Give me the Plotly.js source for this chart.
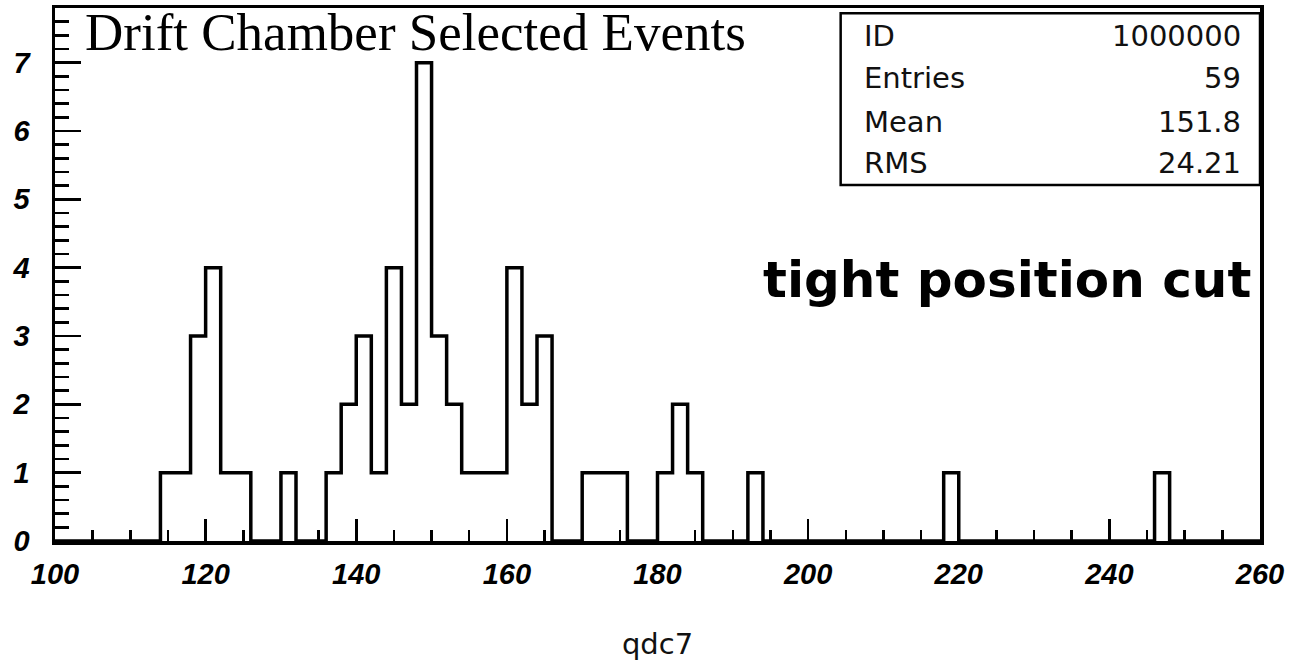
<!DOCTYPE html>
<html>
<head>
<meta charset="utf-8">
<script src="https://cdn.plot.ly/plotly-3.0.1.min.js"></script>
<style>
  html, body { margin: 0; padding: 0; background: #ffffff; }
  #chart { width: 1297px; height: 665px; }
</style>
</head>
<body>
<div id="chart"></div>
<script>
// ---- data ----
const chartTitle = 'Drift Chamber Selected Events';
const xTitle = 'qdc7';
const handNote = 'tight position cut';
const xMin = 100, xMax = 260, binWidth = 2;
// left edges of non-empty bins and their counts
const binLeft = [114,116,118,120,122,124,130,136,138,140,142,144,146,148,150,152,154,156,158,160,162,164,170,172,174,180,182,184,192,218,246];
const counts  = [1,1,3,4,1,1,1,1,2,3,1,4,2,7,3,2,1,1,1,4,2,3,1,1,1,1,2,1,1,1,1];
const statLabels = ['ID', 'Entries', 'Mean', 'RMS'];
const statValues = ['1000000', '59', '151.8', '24.21'];
const xTickVals = [100,120,140,160,180,200,220,240,260];
const yTickVals = [0,1,2,3,4,5,6,7];

// ---- build the full step outline from the bins ----
const nBins = Math.round((xMax - xMin) / binWidth);
const full = new Array(nBins).fill(0);
binLeft.forEach((l, i) => { full[Math.round((l - xMin) / binWidth)] = counts[i]; });
const sx = [], sy = [];
for (let i = 0; i < nBins; i++) { sx.push(xMin + i * binWidth); sy.push(full[i]); }
sx.push(xMax); sy.push(0);

const trace = {
  type: 'scatter', mode: 'lines', x: sx, y: sy,
  line: { shape: 'hv', color: '#000', width: 3.5 },
  hoverinfo: 'x+y', showlegend: false
};

const tickFont = { family: 'Liberation Sans, Arial, sans-serif', size: 29, color: '#000', weight: 'bold', style: 'italic' };
const statFont = { family: 'DejaVu Sans, sans-serif', size: 29, color: '#111' };

// stats box rows (paper y positions)
const rowY = [0.947, 0.868, 0.787, 0.710];
const annotations = [];
statLabels.forEach((s, i) => {
  annotations.push({ xref: 'paper', yref: 'paper', x: 0.670, y: rowY[i], text: s, showarrow: false, xanchor: 'left', yanchor: 'middle', font: statFont });
  annotations.push({ xref: 'paper', yref: 'paper', x: 0.986, y: rowY[i], text: statValues[i], showarrow: false, xanchor: 'right', yanchor: 'middle', font: statFont });
});
annotations.push({ xref: 'paper', yref: 'paper', x: 0.023, y: 0.955, text: chartTitle, showarrow: false, xanchor: 'left', yanchor: 'middle',
  font: { family: 'Liberation Serif, Times New Roman, serif', size: 53, color: '#000' } });
annotations.push({ xref: 'paper', yref: 'paper', x: 0.790, y: 0.49, text: handNote, showarrow: false, xanchor: 'center', yanchor: 'middle',
  font: { family: 'DejaVu Sans, sans-serif', size: 50, color: '#000', weight: 'bold' } });

const layout = {
  width: 1297, height: 665,
  margin: { l: 55, r: 37, t: 8, b: 124 },
  paper_bgcolor: '#fff', plot_bgcolor: '#fff',
  showlegend: false,
  xaxis: {
    range: [xMin, xMax], tickvals: xTickVals, ticktext: xTickVals.map(String),
    ticks: 'inside', ticklen: 22, tickwidth: 2.5, tickcolor: '#000',
    minor: { dtick: 5, tick0: 100, ticks: 'inside', ticklen: 11, tickwidth: 2.5, tickcolor: '#000', showgrid: false },
    showline: true, linecolor: '#000', linewidth: 3.5, mirror: true,
    showgrid: false, zeroline: false, tickfont: tickFont, ticklabelstandoff: 5,
    title: { text: xTitle, font: { family: 'DejaVu Sans, sans-serif', size: 29, color: '#111' }, standoff: 45 }
  },
  yaxis: {
    range: [0, 7.8], tickvals: yTickVals, ticktext: yTickVals.map(String),
    ticks: 'inside', ticklen: 26, tickwidth: 2.5, tickcolor: '#000',
    minor: { dtick: 0.2, tick0: 0, ticks: 'inside', ticklen: 14, tickwidth: 2.5, tickcolor: '#000', showgrid: false },
    showline: true, linecolor: '#000', linewidth: 3.5, mirror: true,
    showgrid: false, zeroline: false, tickfont: tickFont, ticklabelstandoff: 16
  },
  shapes: [{
    type: 'rect', xref: 'paper', yref: 'paper', x0: 0.652, x1: 1.0, y0: 0.668, y1: 0.99,
    line: { color: '#000', width: 2.5 }, fillcolor: '#fff', layer: 'above'
  }],
  annotations: annotations
};

Plotly.newPlot('chart', [trace], layout, { displayModeBar: false, staticPlot: true });
</script>
</body>
</html>
